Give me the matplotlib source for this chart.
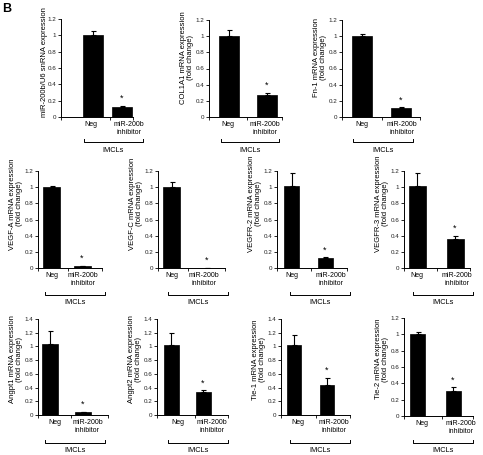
import numpy as np
import matplotlib
matplotlib.use("Agg")
import matplotlib.pyplot as plt

plt.rcParams['font.family'] = ['Liberation Sans', 'DejaVu Sans']

# data
genes = ["miR-200b/U6 snRNA expression",
         "COL1A1 mRNA expression\n(fold change)",
         "Fn-1 mRNA expression\n(fold change)",
         "VEGF-A mRNA expression\n(fold change)",
         "VEGF-C mRNA expression\n(fold change)",
         "VEGFR-2 mRNA expression\n(fold change)",
         "VEGFR-3 mRNA expression\n(fold change)",
         "Angpt1 mRNA expression\n(fold change)",
         "Angpt2 mRNA expression\n(fold change)",
         "Tie-1 mRNA expression\n(fold change)",
         "Tie-2 mRNA expression\n(fold change)"]
groups = ["Neg", "miR-200b\ninhibitor"]
neg_vals = [1.0, 1.0, 1.0, 1.0, 1.0, 1.02, 1.02, 1.03, 1.02, 1.02, 1.0]
neg_errs = [0.05, 0.08, 0.03, 0.02, 0.06, 0.16, 0.15, 0.20, 0.18, 0.15, 0.03]
inh_vals = [0.12, 0.27, 0.11, 0.02, 0.005, 0.12, 0.36, 0.04, 0.33, 0.44, 0.31]
inh_errs = [0.02, 0.03, 0.01, 0.005, 0.0, 0.01, 0.04, 0.01, 0.03, 0.10, 0.04]
ymaxs = [1.2, 1.2, 1.2, 1.2, 1.2, 1.2, 1.2, 1.4, 1.4, 1.4, 1.2]
cell_line = "IMCLs"

W, H = 483, 455
# panel layout in pixels: spine x, axis end x, top y, zero y, bar centres, bar width
layout = [
    (61, 133, 19, 117, 93, 121.5, 20),
    (209, 282, 20, 117, 228.5, 267, 20),
    (342, 420, 20, 117, 362, 401, 20),
    (38, 102, 171, 268, 51.5, 82, 17),
    (158, 225, 171, 268, 171.5, 207, 17),
    (277, 347, 171, 268, 291.5, 325, 15),
    (404, 470, 171, 268, 417, 455, 17),
    (38, 108, 319, 415, 50, 82.5, 16),
    (157, 228, 319, 415, 171, 203, 15),
    (281, 350, 319, 415, 294, 326.5, 14),
    (404, 473, 318, 416, 417.5, 453, 15),
]
# group label centres (px)
label_px = [(91, 129), (228, 265), (362, 402),
            (52, 83), (171.5, 204), (291.5, 331), (417, 457),
            (54.5, 87.5), (178, 212), (298, 334), (422, 461)]
# bracket ends (px)
bracket_px = [(84, 143), (221, 279), (353, 413),
              (45, 105), (168, 228), (290, 350), (413, 473),
              (45, 105), (168, 228), (290, 350), (413, 473)]
# bracket y, label y, y-label centre (axes fraction) for each row
bracket_rows = [(142, 150), (295, 303), (443, 451)]
ylabel_pos = [0.61, 0.66, 0.58]
row_of = [0, 0, 0, 1, 1, 1, 1, 2, 2, 2, 2]

fig = plt.figure(figsize=(W / 100, H / 100), dpi=100)
fig.text(2 / W, 1 - 9 / H, "B", fontsize=9, fontweight="bold", va="center")

for i in range(len(genes)):
    x0, x1, ytop, yzero, c0, c1, bw = layout[i]
    ax = fig.add_axes([x0 / W, 1 - yzero / H, (x1 - x0) / W, (yzero - ytop) / H])
    scale = c1 - c0
    to_data = lambda px: (px - c0) / scale
    ax.set_xlim(to_data(x0), to_data(x1))
    ax.set_ylim(0, ymaxs[i])
    vals = [neg_vals[i], inh_vals[i]]
    errs = [neg_errs[i], inh_errs[i]]
    ax.bar([0, 1], vals, width=bw / scale, color="black", edgecolor="black", linewidth=0.5,
           yerr=[[0, 0], errs], capsize=1.8,
           error_kw=dict(ecolor="black", elinewidth=0.8, capthick=0.8))
    ax.text(1, vals[1] + errs[1] + 0.03 * ymaxs[i], "*", ha="center", va="bottom", fontsize=6.5)

    for s in ["top", "right"]:
        ax.spines[s].set_visible(False)
    for s in ["left", "bottom"]:
        ax.spines[s].set_linewidth(0.7)
    ticks = np.arange(0, ymaxs[i] + 0.01, 0.2)
    ax.set_yticks(ticks)
    ax.set_yticklabels(["%g" % round(t, 1) for t in ticks], fontsize=4.5, color="#222222")
    ax.tick_params(axis="y", length=2, width=0.6, pad=1.5)

    # group labels and small boundary ticks on the x axis
    l0, l1 = label_px[i]
    ax.set_xticks([to_data(l0), to_data(l1)])
    ax.set_xticklabels(groups, fontsize=5, linespacing=1.1)
    ax.tick_params(axis="x", which="major", length=0, pad=3)
    ax.set_xticks([to_data(x0), to_data((l0 + l1) / 2), to_data(x1)], minor=True)
    ax.tick_params(axis="x", which="minor", length=2, width=0.6)

    ax.set_ylabel(genes[i], fontsize=5.5, labelpad=-0.5 if i == 0 else 1.2, linespacing=1.0)
    ax.yaxis.label.set_y(0.56 if i == 0 else ylabel_pos[row_of[i]])

    # IMCLs bracket under the group labels
    by, ly = bracket_rows[row_of[i]]
    bx0, bx1 = bracket_px[i]
    fx0, fx1 = bx0 / W, bx1 / W
    yb = 1 - by / H
    tick_h = 3 / H
    fig.add_artist(plt.Line2D([fx0, fx0, fx1, fx1], [yb + tick_h, yb, yb, yb + tick_h],
                              color="black", lw=0.7, transform=fig.transFigure))
    fig.text((fx0 + fx1) / 2, 1 - ly / H, cell_line, ha="center", va="center", fontsize=5.3)

fig.savefig("out.png", dpi=100)
